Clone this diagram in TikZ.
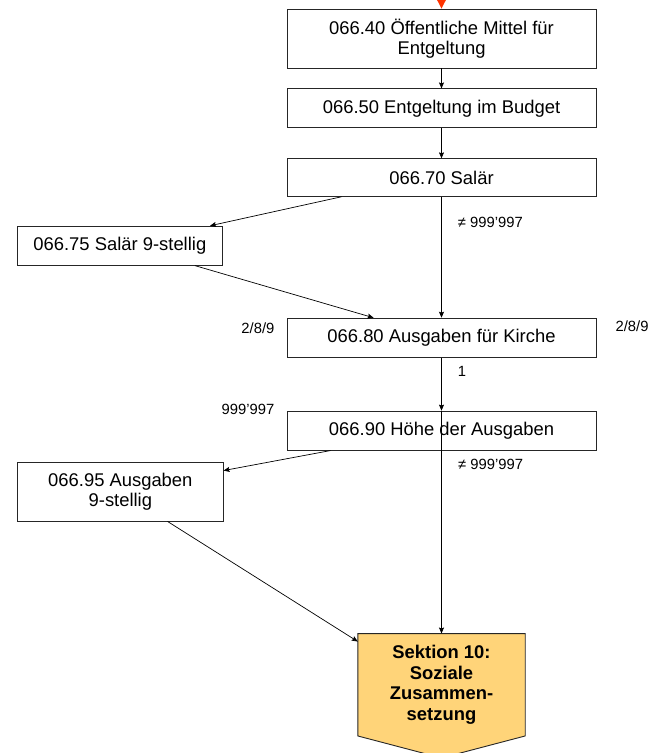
\documentclass[tikz,border=0pt]{standalone}
\usepackage{fontspec}
\setmainfont{Liberation Sans}
\usetikzlibrary{positioning, calc, arrows.meta, backgrounds}
\definecolor{sektionfill}{HTML}{FFD479}
\definecolor{entryred}{HTML}{FF3300}

\begin{document}
\begin{tikzpicture}[
        node distance=20pt,
        font=\fontsize{18.4}{20.5}\selectfont,
        var/.style={rectangle, draw=black!85, line width=0.9pt, fill=white, minimum width=309pt, minimum height=39pt, inner sep=2pt, align=center},
        sidevar/.style={var, minimum width=205.5pt},
        sektion/.style={rectangle, minimum width=167pt, minimum height=102pt, inner sep=2pt, align=center, font=\fontsize{18.4}{20.5}\selectfont\bfseries},
        sektionshape/.style={draw=black!85, line width=0.9pt, fill=sektionfill},
        lbl/.style={font=\fontsize{14.8}{17}\selectfont, inner sep=0pt},
        arrow/.style={-{Stealth[length=6pt, width=5pt, inset=1pt]}, line width=0.7pt},
        entry/.style={-{Triangle[length=9pt, width=9pt]}, entryred, line width=1pt}
    ]

    \useasboundingbox (0,0) rectangle (661pt,-753pt);

    \node (in1) [var, minimum height=59pt] at (441.5pt,-38.5pt) {066.40 Öffentliche Mittel für\\Entgeltung};
    \node (budget) [var, below=of in1] {066.50 Entgeltung im Budget};
    \node (salaer) [var, below=30pt of budget, minimum height=37.5pt] {066.70 Salär};
    \node (kirche) [var, below=121pt of salaer] {066.80 Ausgaben für Kirche};
    \node (hoehe) [var, below=53pt of kirche] {066.90 Höhe der Ausgaben};
    \node (sektion) [sektion, below=183pt of hoehe] {Sektion 10:\\Soziale\\Zusammen-\\setzung};

    % pentagon pointing down behind the section text
    \begin{scope}[on background layer]
        \filldraw [sektionshape] (sektion.north west) -- (sektion.north east) -- (sektion.south east)
            -- ($(sektion.south)+(0,-22pt)$) -- (sektion.south west) -- cycle;
    \end{scope}

    \node (s975) [sidevar, below left=29pt and 63.5pt of salaer] {066.75 Salär 9-stellig};
    \node (s995) [sidevar, minimum height=59pt, below left=11pt and 63pt of hoehe] {066.95 Ausgaben\\9-stellig};

    % codes next to the boxes
    \node (k289l) [lbl, anchor=east] at ($(kirche.north west)+(-12pt,-10pt)$) {2/8/9};
    \node (k289r) [lbl, anchor=west] at ($(kirche.north east)+(19pt,-8pt)$) {2/8/9};
    \node (h997) [lbl, anchor=east] at ($(hoehe.north west)+(-12pt,1pt)$) {999’997};

    \coordinate (entry) at (441.5pt,3pt);
    \draw [entry] (entry) -- (in1);
    \draw [arrow] (in1) -- (budget);
    \draw [arrow] (budget) -- (salaer);
    \draw [arrow] ([xshift=55pt]salaer.south west) -- ([xshift=-13pt]s975.north east);
    \draw [arrow] (salaer) -- node[lbl, pos=0.215, right=16pt] {≠ 999’997} (kirche);
    \draw [arrow] ([xshift=-28pt]s975.south east) -- ([xshift=87pt]kirche.north west);
    \draw [arrow] (kirche) -- node[lbl, pos=0.26, right=16pt] {1} (hoehe);
    \draw [arrow] ([xshift=44pt]hoehe.south west) -- ([yshift=-9pt]s995.north east);
    \draw [arrow, line width=1.3pt] (hoehe.north) -- node[lbl, pos=0.239, right=16pt] {≠ 999’997} (sektion);
    \draw [arrow] ([xshift=-56pt]s995.south east) -- ([yshift=-8pt]sektion.north west);

\end{tikzpicture}
\end{document}
